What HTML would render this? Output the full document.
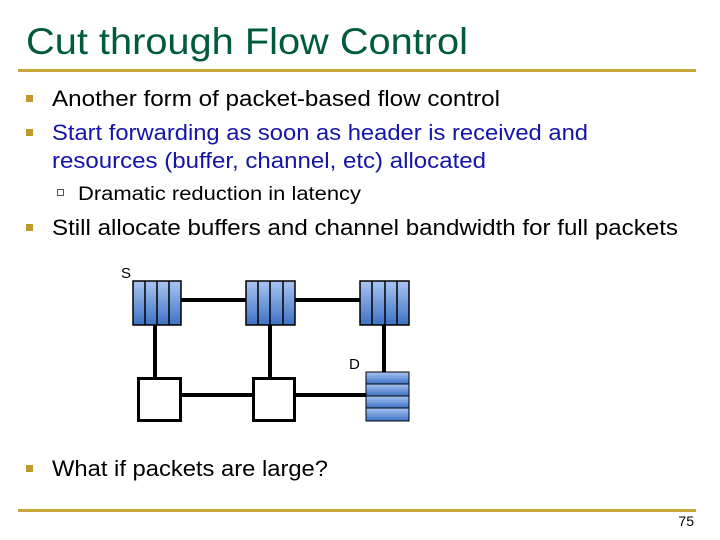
<!DOCTYPE html>
<html><head><meta charset="utf-8"><style>
html,body{margin:0;padding:0;background:#fff;}
svg{display:block}
</style></head><body>
<svg width="720" height="540" xmlns="http://www.w3.org/2000/svg" font-family="Liberation Sans, sans-serif">
<defs>
<linearGradient id="g" x1="0" y1="0" x2="0" y2="1">
<stop offset="0" stop-color="#a9c4f2"/><stop offset="1" stop-color="#3d72c4"/>
</linearGradient>
</defs>
<text x="26" y="54" font-size="37" fill="#005a3c" textLength="442" lengthAdjust="spacingAndGlyphs">Cut through Flow Control</text>
<rect x="18" y="69" width="678" height="3" fill="#c8a83a"/>
<rect x="18" y="509" width="678" height="3" fill="#c8a83a"/>
<g fill="#c09a30">
<rect x="26" y="95" width="7" height="7"/>
<rect x="26" y="129" width="7" height="7"/>
<rect x="26" y="224" width="7" height="7"/>
<rect x="26" y="465" width="7" height="7"/>
</g>
<rect x="57.5" y="189.5" width="6" height="6" fill="none" stroke="#555" stroke-width="1"/>
<g font-size="22">
<text x="52" y="106" fill="#000" textLength="448" lengthAdjust="spacingAndGlyphs">Another form of packet-based flow control</text>
<text x="52" y="140" fill="#1414a8" textLength="536" lengthAdjust="spacingAndGlyphs">Start forwarding as soon as header is received and</text>
<text x="52" y="168" fill="#1414a8" textLength="434" lengthAdjust="spacingAndGlyphs">resources (buffer, channel, etc) allocated</text>
<text x="52" y="235" fill="#000" textLength="626" lengthAdjust="spacingAndGlyphs">Still allocate buffers and channel bandwidth for full packets</text>
<text x="52" y="476" fill="#000" textLength="276" lengthAdjust="spacingAndGlyphs">What if packets are large?</text>
</g>
<text x="78" y="200" font-size="19" fill="#000" textLength="283" lengthAdjust="spacingAndGlyphs">Dramatic reduction in latency</text>
<text x="694" y="526" font-size="14" text-anchor="end" fill="#000">75</text>
<!-- diagram -->
<g stroke="#000" stroke-width="4">
<line x1="181" y1="300" x2="360" y2="300"/>
<line x1="155" y1="325" x2="155" y2="377"/>
<line x1="270" y1="325" x2="270" y2="377"/>
<line x1="384" y1="325" x2="384" y2="372"/>
<line x1="181" y1="395" x2="366" y2="395"/>
</g>
<g stroke="#000" stroke-width="1.5">
<rect x="133" y="281" width="48" height="44" fill="url(#g)"/>
<line x1="145" y1="281" x2="145" y2="325"/><line x1="157" y1="281" x2="157" y2="325"/><line x1="169" y1="281" x2="169" y2="325"/>
<rect x="246" y="281" width="49" height="44" fill="url(#g)"/>
<line x1="258" y1="281" x2="258" y2="325"/><line x1="270" y1="281" x2="270" y2="325"/><line x1="283" y1="281" x2="283" y2="325"/>
<rect x="360" y="281" width="49" height="44" fill="url(#g)"/>
<line x1="372" y1="281" x2="372" y2="325"/><line x1="385" y1="281" x2="385" y2="325"/><line x1="397" y1="281" x2="397" y2="325"/>
</g>
<g stroke="#000" stroke-width="1">
<rect x="366" y="372" width="43" height="12" fill="url(#g)"/>
<rect x="366" y="384" width="43" height="12" fill="url(#g)"/>
<rect x="366" y="396" width="43" height="12" fill="url(#g)"/>
<rect x="366" y="408" width="43" height="13" fill="url(#g)"/>
</g>
<g fill="#fff" stroke="#000" stroke-width="3">
<rect x="138.5" y="378.5" width="42" height="42"/>
<rect x="253.5" y="378.5" width="41" height="42"/>
</g>
<text x="121" y="278" font-size="15" fill="#000">S</text>
<text x="349" y="369" font-size="15" fill="#000">D</text>
</svg>
</body></html>
